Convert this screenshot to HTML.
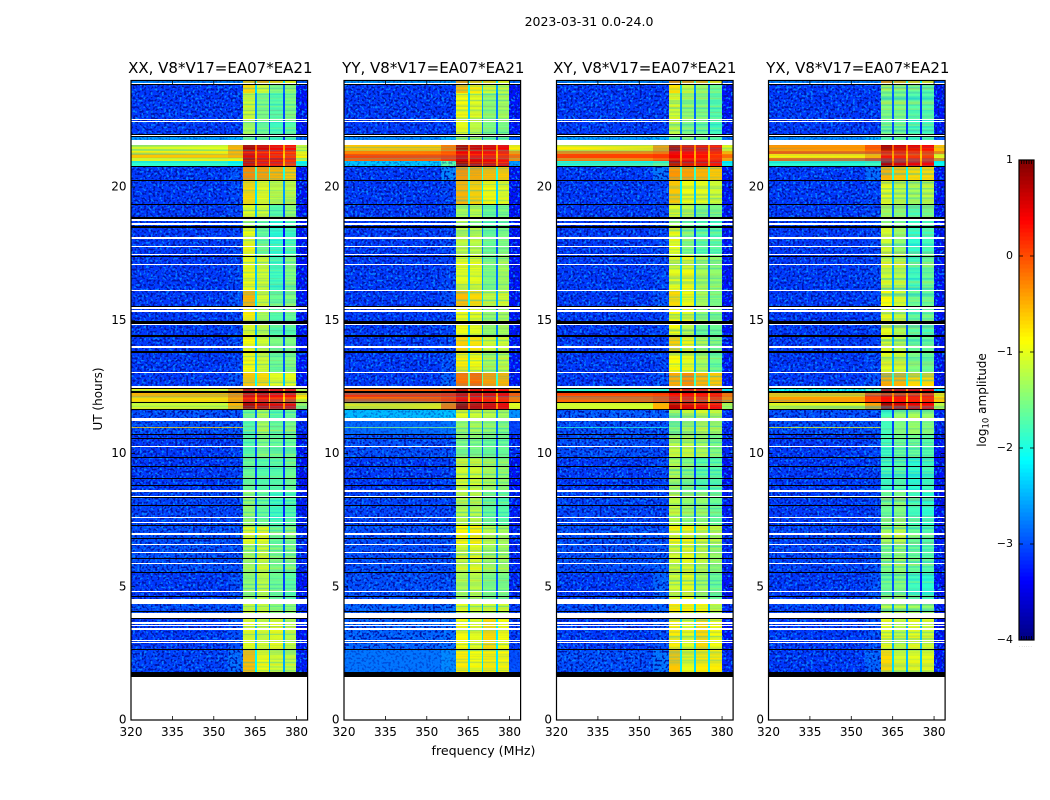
<!DOCTYPE html>
<html>
<head>
<meta charset="utf-8">
<title>2023-03-31 0.0-24.0</title>
<style>
html,body{margin:0;padding:0;background:#fff;}
svg{display:block;font-family:"DejaVu Sans","Liberation Sans",sans-serif;}
text{fill:#000;}
</style>
</head>
<body>
<svg id="chart" width="1050" height="800" viewBox="0 0 1050 800" xmlns="http://www.w3.org/2000/svg">
  <defs>
    <filter id="speckle" x="0" y="0" width="1" height="1" color-interpolation-filters="sRGB">
      <feTurbulence type="fractalNoise" baseFrequency="0.45" numOctaves="1" seed="3" result="n1"/>
      <feColorMatrix in="n1" type="matrix" values="0 0 0 0 0.02  0 0 0 0 0.52  0 0 0 0 1  8 0 0 0 -4.3" result="light"/>
      <feTurbulence type="fractalNoise" baseFrequency="0.45" numOctaves="1" seed="11" result="n2"/>
      <feColorMatrix in="n2" type="matrix" values="0 0 0 0 0  0 0 0 0 0.08  0 0 0 0 0.66  8 0 0 0 -4.1" result="dark"/>
      <feMerge result="m"><feMergeNode in="light"/><feMergeNode in="dark"/></feMerge>
      <feComposite in="m" in2="SourceAlpha" operator="in"/>
    </filter>
    <filter id="streak" x="0" y="0" width="1" height="1" color-interpolation-filters="sRGB">
      <feTurbulence type="fractalNoise" baseFrequency="0.004 0.5" numOctaves="1" seed="5" result="n1"/>
      <feColorMatrix in="n1" type="matrix" values="0 0 0 0 0  0 0 0 0 0.7  0 0 0 0 0.9  1.4 0 0 0 -0.6" result="cool"/>
      <feTurbulence type="fractalNoise" baseFrequency="0.004 0.5" numOctaves="1" seed="17" result="n2"/>
      <feColorMatrix in="n2" type="matrix" values="0 0 0 0 1  0 0 0 0 0.75  0 0 0 0 0  1.2 0 0 0 -0.6" result="warm"/>
      <feMerge result="m"><feMergeNode in="cool"/><feMergeNode in="warm"/></feMerge>
      <feComposite in="m" in2="SourceAlpha" operator="in"/>
    </filter>
  </defs>
  <rect x="0" y="0" width="1050" height="800" fill="#fff"/>
  <text x="589" y="26" text-anchor="middle" font-size="12.5">2023-03-31 0.0-24.0</text>
  <text x="483.5" y="755" text-anchor="middle" font-size="12.6">frequency (MHz)</text>
  <text transform="translate(102,399) rotate(-90)" text-anchor="middle" font-size="12">UT (hours)</text>
  <text transform="translate(986,400) rotate(-90)" text-anchor="middle" font-size="12">log<tspan font-size="8.5" dy="2.5">10</tspan><tspan dy="-2.5"> amplitude</tspan></text>
  <g id="panels"></g>
  <g id="colorbar"></g>
</svg>
<script>
// Axis tick labels
const xTicks = [320, 335, 350, 365, 380];
const yTicks = [0, 5, 10, 15, 20];
const cbTicks = [1, 0, -1, -2, -3, -4];

// Panels
const panelTitles = ['XX, V8*V17=EA07*EA21', 'YY, V8*V17=EA07*EA21', 'XY, V8*V17=EA07*EA21', 'YX, V8*V17=EA07*EA21'];

// Frequency column edges (MHz): background, near-band background, four channels with notches, out-of-band
const freqEdges = [320, 355, 360.6, 364.8, 365.6, 370, 370.5, 375, 375.7, 379.9, 384];

// UT band edges (hours), top to bottom
const bandEdges = [24, 23.87, 23.54, 22.53, 21.89, 21.59, 21.36, 21.25, 21.10, 20.99, 20.76, 20.24, 19.38, 18.82, 18.5, 17.45, 16.15, 15.55, 14.96, 14.42, 13.83, 13.07, 12.52, 12.31, 12.11, 11.92, 11.68, 11.3, 10.72, 9.85, 8.62, 7.31, 6.56, 5.55, 4.5, 3.83, 2.63, 1.6];

// Flagged-out time ranges (white) in hours
const flaggedWhite = [[23.87,23.91],[22.51,22.55],[22.45,22.49],[21.92,21.96],[21.59,21.78],[18.73,18.80],[18.59,18.65],[18.05,18.11],[17.74,17.80],[17.45,17.50],[17.08,17.13],[16.10,16.15],[15.42,15.49],[15.32,15.37],[14.84,14.88],[13.96,14.02],[13.01,13.07],[12.47,12.52],[11.24,11.35],[10.24,10.30],[8.57,8.65],[8.37,8.41],[7.57,7.63],[7.39,7.42],[6.96,7.00],[6.55,6.60],[6.27,6.31],[5.84,5.88],[4.81,4.86],[4.37,4.54],[3.83,4.02],[3.60,3.66],[3.52,3.56],[3.37,3.44],[2.96,3.02],[2.89,2.92]];

// Zero-amplitude time ranges (black) in hours
const flaggedBlack = [[23.84,23.87],[21.96,22.00],[21.89,21.92],[20.75,20.78],[20.21,20.25],[19.35,19.38],[18.82,18.86],[18.45,18.53],[17.39,17.43],[15.52,15.55],[14.88,14.96],[14.38,14.46],[13.79,13.83],[12.43,12.46],[12.29,12.33],[11.90,11.94],[11.64,11.69],[10.70,10.74],[10.54,10.58],[9.83,9.86],[9.51,9.55],[9.06,9.10],[8.78,8.82],[8.32,8.36],[8.04,8.08],[7.29,7.33],[6.80,6.84],[6.04,6.08],[5.52,5.55],[4.61,4.65],[4.05,4.09],[3.79,3.83],[2.63,2.67],[1.60,1.79]];

// Narrow-band interference rows: hour and level per panel
const rfiHours = [10.98, 10.98, 10.98, 10.98];
const rfiLevels = [-0.7, -1.5, -1.9, -1.0];

// log10 amplitude per UT band — XX
const xxBg = [-2.7,-3.1,-3.1,-3.1,-2.6,-1.0,-0.85,-0.6,-1.0,-1.9,-3.1,-3.1,-3.1,-3.1,-3.1,-3.1,-3.1,-3.1,-3.1,-3.1,-3.1,-3.1,-0.95,-0.5,-0.7,-1.15,-3.0,-3.0,-3.1,-3.1,-3.05,-3.0,-3.0,-3.1,-3.0,-3.1,-3.05];
const xxNear = [-2.7,-3.1,-3.1,-3.1,-2.5,-0.5,-0.5,-0.5,-0.9,-2.1,-3.0,-3.05,-3.05,-3.05,-3.05,-3.05,-3.0,-3.05,-3.05,-3.05,-3.05,-3.0,-0.4,-0.3,-0.4,-0.5,-3.0,-3.0,-3.05,-3.05,-3.05,-3.0,-3.0,-3.0,-3.0,-3.0,-2.85];
const xxCh1 = [-0.6,-0.7,-1.1,-1.3,-1.6,0.75,0.45,0.5,0.7,0.6,-0.3,-0.7,-1.0,-1.3,-0.95,-0.95,-0.5,-0.8,-1.0,-0.9,-0.9,-0.6,0.6,0.5,0.3,0.75,-1.6,-1.7,-1.7,-1.6,-1.4,-1.0,-1.3,-1.4,-1.1,-1.0,-0.55];
const xxCh2 = [-0.5,-1.1,-1.5,-1.6,-1.6,0.55,0.3,0.3,0.5,0.4,-0.4,-1.0,-1.1,-1.6,-1.6,-1.1,-1.1,-1.3,-1.2,-1.1,-1.1,-0.7,0.55,0.5,0.3,0.6,-1.3,-1.3,-1.5,-1.7,-1.6,-1.0,-1.1,-1.2,-1.1,-1.1,-0.95];
const xxCh3 = [-0.7,-1.5,-1.7,-1.8,-1.8,0.4,0.3,0.2,0.5,0.4,-0.5,-1.2,-1.7,-1.9,-1.9,-1.8,-1.6,-1.7,-1.7,-1.5,-1.6,-1.0,0.4,0.35,0.2,0.5,-1.7,-1.6,-1.6,-1.7,-1.8,-1.6,-1.5,-1.6,-1.4,-1.0,-1.1];
const xxCh4 = [-0.9,-1.4,-1.5,-1.7,-1.7,0.35,0.2,0.1,0.3,0.2,-0.6,-1.2,-1.4,-1.7,-1.8,-1.5,-1.5,-1.6,-1.7,-1.5,-1.5,-1.0,0.3,0.3,0.1,0.45,-1.6,-1.5,-1.6,-1.6,-1.7,-1.5,-1.5,-1.7,-1.4,-1.2,-1.2];

// log10 amplitude per UT band — YY
const yyBg = [-2.6,-3.1,-3.1,-3.1,-2.7,-0.6,-0.2,0.05,-0.1,-2.4,-3.1,-3.1,-3.1,-3.1,-3.1,-3.1,-3.1,-3.1,-3.1,-3.1,-3.1,-3.1,-0.1,0.15,0,-0.8,-2.45,-2.85,-3.0,-3.1,-3.05,-3.0,-3.0,-3.0,-2.9,-2.9,-2.8];
const yyNear = [-2.6,-3.1,-3.1,-3.1,-2.5,-0.2,-0.05,0.1,0.1,-1.7,-2.7,-3.05,-3.05,-3.05,-3.05,-3.05,-3.0,-3.05,-3.05,-3.05,-3.0,-2.9,0.05,0.2,0.1,-0.2,-2.4,-2.8,-3.0,-3.05,-3.05,-3.0,-3.0,-3.0,-2.85,-2.85,-2.7];
const yyCh1 = [-0.4,-0.55,-0.9,-1.0,-1.3,0.8,0.45,0.5,0.55,0.8,-0.35,-0.5,-1.3,-1.2,-1.2,-1.0,-0.55,-0.95,-0.95,-0.65,-0.8,-0.2,0.7,0.55,0.4,0.85,-1.0,-1.4,-1.5,-1.1,-1.2,-0.85,-1.1,-1.3,-1.0,-0.9,-0.8];
const yyCh2 = [-0.6,-0.8,-1.0,-1.2,-1.3,0.6,0.4,0.35,0.5,0.6,-0.45,-0.65,-1.2,-1.4,-1.2,-1.0,-0.7,-1.0,-1.0,-0.75,-0.9,-0.15,0.55,0.5,0.35,0.65,-1.1,-1.3,-1.5,-1.1,-1.2,-0.8,-1.0,-1.2,-1.1,-1.0,-0.9];
const yyCh3 = [-0.7,-1.1,-1.4,-1.5,-1.6,0.5,0.35,0.3,0.4,0.5,-0.55,-0.9,-1.6,-1.7,-1.6,-1.5,-1.2,-1.4,-1.4,-1.1,-1.3,-0.4,0.45,0.45,0.25,0.55,-1.2,-1.4,-1.6,-1.3,-1.6,-1.2,-1.3,-1.5,-1.1,-0.7,-0.8];
const yyCh4 = [-0.9,-1.2,-1.3,-1.5,-1.6,0.4,0.25,0.2,0.3,0.4,-0.6,-1.0,-1.5,-1.6,-1.5,-1.3,-1.1,-1.3,-1.3,-1.1,-1.2,-0.5,0.4,0.4,0.2,0.45,-1.3,-1.5,-1.6,-1.4,-1.7,-1.3,-1.3,-1.5,-1.1,-0.9,-0.85];

// log10 amplitude per UT band — XY
const xyBg = [-2.7,-3.1,-3.1,-3.1,-2.6,-0.8,-0.3,0.05,-0.2,-2.0,-3.1,-3.1,-3.1,-3.1,-3.1,-3.1,-3.1,-3.1,-3.1,-3.1,-3.1,-3.1,-2.0,0.05,-0.1,-1.1,-2.95,-3.0,-3.0,-3.1,-3.05,-3.0,-3.0,-3.1,-3.0,-3.1,-3.0];
const xyNear = [-2.7,-3.1,-3.1,-3.1,-2.5,-0.4,-0.2,0.1,0,-1.8,-2.8,-3.05,-3.05,-3.05,-3.05,-3.05,-3.0,-3.05,-3.05,-3.05,-3.05,-3.0,-2.0,0.1,0,-0.5,-2.95,-3.0,-3.05,-3.05,-3.05,-3.0,-2.95,-2.9,-2.9,-3.0,-2.8];
const xyCh1 = [-0.3,-0.75,-1.1,-1.2,-1.7,0.75,0.4,0.45,0.5,0.75,-0.35,-0.6,-1.0,-1.3,-1.0,-1.0,-0.7,-0.9,-0.9,-0.65,-0.9,-0.45,0.6,0.4,0.3,0.7,-1.4,-1.5,-1.2,-1.3,-1.2,-0.9,-1.1,-1.1,-0.8,-0.8,-0.6];
const xyCh2 = [-0.4,-1.2,-1.4,-1.5,-1.5,0.5,0.35,0.35,0.4,0.55,-0.4,-0.95,-1.2,-1.6,-1.5,-0.95,-0.95,-1.0,-1.2,-0.95,-1.0,-0.3,0.45,0.4,0.25,0.55,-1.2,-1.3,-1.2,-1.5,-1.4,-0.9,-1.0,-1.0,-0.85,-1.0,-1.0];
const xyCh3 = [-0.5,-1.4,-1.5,-1.6,-1.6,0.45,0.3,0.3,0.35,0.45,-0.5,-1.0,-1.5,-1.7,-1.7,-1.3,-1.3,-1.4,-1.6,-1.3,-1.3,-0.5,0.35,0.35,0.15,0.45,-1.1,-1.2,-1.3,-1.7,-1.4,-1.1,-1.2,-1.3,-0.9,-0.7,-0.8];
const xyCh4 = [-0.8,-1.6,-1.7,-1.8,-1.7,0.35,0.2,0.15,0.25,0.35,-0.6,-1.1,-1.5,-1.8,-1.7,-1.4,-1.5,-1.5,-1.6,-1.5,-1.6,-0.6,0.3,0.3,0.1,0.35,-1.2,-1.3,-1.5,-1.7,-1.6,-1.2,-1.4,-1.6,-1.2,-0.9,-0.8];

// log10 amplitude per UT band — YX
const yxBg = [-2.7,-3.1,-3.1,-3.1,-2.7,-0.35,-0.05,-0.8,-0.1,-1.9,-3.1,-3.1,-3.1,-3.1,-3.1,-3.1,-3.1,-3.1,-3.1,-3.1,-3.1,-3.1,-2.1,-0.6,-0.4,-1.0,-3.0,-3.0,-3.1,-3.1,-3.1,-3.05,-3.05,-3.1,-3.05,-3.1,-3.1];
const yxNear = [-2.7,-3.1,-3.1,-3.1,-2.5,-0.05,0.05,-0.5,0.1,-1.8,-2.85,-3.05,-3.05,-3.05,-3.05,-3.05,-3.05,-3.05,-3.05,-3.05,-3.05,-3.0,-1.8,0.15,0.05,-0.4,-3.0,-3.0,-3.05,-3.05,-3.05,-3.05,-3.0,-3.0,-3.0,-3.0,-2.9];
const yxCh1 = [-0.3,-1.4,-1.5,-1.6,-1.7,0.8,0.45,0.4,0.5,0.75,-0.5,-1.0,-1.4,-1.5,-1.1,-1.1,-0.9,-1.0,-1.0,-1.0,-1.0,-0.45,0.65,0.5,0.35,0.8,-1.8,-1.8,-1.8,-1.8,-1.6,-1.3,-1.5,-1.6,-1.2,-1.0,-0.7];
const yxCh2 = [-0.5,-1.5,-1.5,-1.6,-1.6,0.6,0.4,0.3,0.4,0.55,-0.6,-1.2,-1.5,-1.6,-1.4,-1.2,-1.1,-1.2,-1.3,-1.2,-1.1,-0.5,0.55,0.5,0.3,0.6,-1.4,-1.5,-1.6,-1.7,-1.5,-1.2,-1.4,-1.5,-1.2,-1.2,-1.1];
const yxCh3 = [-0.7,-1.6,-1.7,-1.8,-1.8,0.5,0.3,0.2,0.3,0.45,-0.7,-1.3,-1.8,-1.9,-1.9,-1.8,-1.6,-1.7,-1.7,-1.6,-1.5,-0.7,0.5,0.4,0.25,0.5,-1.3,-1.4,-1.6,-1.9,-1.8,-1.6,-1.6,-1.8,-1.3,-1.0,-1.0];
const yxCh4 = [-0.8,-1.7,-1.7,-1.8,-1.7,0.4,0.2,0.15,0.25,0.4,-0.7,-1.2,-1.6,-1.8,-1.8,-1.6,-1.6,-1.6,-1.8,-1.6,-1.6,-0.7,0.4,0.35,0.2,0.4,-1.4,-1.5,-1.7,-1.8,-1.9,-1.7,-1.7,-1.9,-1.4,-1.1,-1.0];

const panelSeries = [
  [xxBg, xxNear, xxCh1, xxCh2, xxCh3, xxCh4],
  [yyBg, yyNear, yyCh1, yyCh2, yyCh3, yyCh4],
  [xyBg, xyNear, xyCh1, xyCh2, xyCh3, xyCh4],
  [yxBg, yxNear, yxCh1, yxCh2, yxCh3, yxCh4]
];

const NS = 'http://www.w3.org/2000/svg';
const panelLeft = [131, 344, 556.5, 768.5];
const titleShift = [1, 1, 0, 1];
const panelWidth = 176.6;
const plotTop = 80.5, plotBottom = 720;

function xScale(p, f) { return panelLeft[p] + (f - 320) / 64 * panelWidth; }
function yScale(h) { return plotBottom - h / 24 * (plotBottom - plotTop); }

function jet(v) {
  const t = Math.max(0, Math.min(1, (v + 4) / 5));
  const c = x => Math.round(255 * Math.max(0, Math.min(1, 1.5 - Math.abs(4 * t - x))));
  return 'rgb(' + c(3) + ',' + c(2) + ',' + c(1) + ')';
}
function notch(a, b) {
  const m = (a + b) / 2;
  return m > 0 ? m - 0.8 : m - 1.4;
}
function mk(tag, attrs, parent) {
  const el = document.createElementNS(NS, tag);
  for (const k in attrs) el.setAttribute(k, attrs[k]);
  parent.appendChild(el);
  return el;
}

const channelColumns = [2, 4, 6, 8];

const panelsRoot = document.getElementById('panels');
panelTitles.forEach((title, p) => {
  const g = mk('g', {}, panelsRoot);
  
  
  const [bg, near, c1, c2, c3, c4] = panelSeries[p];

  const cells = mk('g', {'shape-rendering': 'crispEdges'}, g);
  
  
  const speck = mk('g', {filter: 'url(#speckle)', 'shape-rendering': 'crispEdges'}, g);
  
  
  const streak = mk('g', {filter: 'url(#streak)', 'shape-rendering': 'crispEdges'}, g);
  
  

  for (let b = 0; b < bandEdges.length - 1; b++) {
    const levels = [
      bg[b], near[b], c1[b], notch(c1[b], c2[b]),
      c2[b], notch(c2[b], c3[b]), c3[b], notch(c3[b], c4[b]),
      c4[b], bg[b] - 0.2
    ];
    const y0 = Math.round(yScale(bandEdges[b]));
    const y1 = Math.round(yScale(bandEdges[b + 1]));
    levels.forEach((v, i) => {
      const x0 = Math.round(xScale(p, freqEdges[i]));
      const x1 = Math.round(xScale(p, freqEdges[i + 1]));
      const cell = mk('rect', {x: x0, y: y0, width: x1 - x0, height: y1 - y0, fill: jet(v)}, cells);
      
      
    });
    const xa = Math.round(xScale(p, freqEdges[0]));
    const xb = Math.round(xScale(p, freqEdges[2]));
    const xc = Math.round(xScale(p, freqEdges[9]));
    const xd = Math.round(xScale(p, freqEdges[10]));
    if (bg[b] < -2) {
      const strength = bg[b] < -2.85 ? 1 : 0.4;
      mk('rect', {x: xa, y: y0, width: xb - xa, height: y1 - y0, 'fill-opacity': strength}, speck);
      mk('rect', {x: xc, y: y0, width: xd - xc, height: y1 - y0, 'fill-opacity': strength}, speck);
    } else {
      mk('rect', {x: xa, y: y0, width: xb - xa, height: y1 - y0}, streak);
      mk('rect', {x: xc, y: y0, width: xd - xc, height: y1 - y0}, streak);
    }
    channelColumns.forEach(i => {
      const x0 = Math.round(xScale(p, freqEdges[i]));
      const x1 = Math.round(xScale(p, freqEdges[i + 1]));
      mk('rect', {x: x0, y: y0, width: x1 - x0, height: y1 - y0}, streak);
    });
  }

  const L = panelLeft[p], R = L + panelWidth;

  const rfi = mk('rect', {x: L, y: Math.round(yScale(rfiHours[p])), width: xScale(p, 360.6) - L, height: 1, fill: jet(rfiLevels[p]), opacity: 0.75, 'shape-rendering': 'crispEdges'}, g);
  
  

  flaggedWhite.forEach(r => {
    const y0 = yScale(r[1]), y1 = yScale(r[0]);
    const w = mk('rect', {x: L, y: Math.round(y0), width: panelWidth, height: Math.max(1, Math.round(y1) - Math.round(y0)), fill: '#fff', 'shape-rendering': 'crispEdges'}, g);
    
    
  });
  flaggedBlack.forEach(r => {
    const y0 = yScale(r[1]), y1 = yScale(r[0]);
    const k = mk('rect', {x: L, y: Math.round(y0), width: panelWidth, height: Math.max(1, Math.round(y1) - Math.round(y0)), fill: '#000', 'shape-rendering': 'crispEdges'}, g);
    
    
  });

  const below = mk('rect', {x: L, y: Math.round(yScale(1.57)), width: panelWidth, height: plotBottom - Math.round(yScale(1.57)), fill: '#fff'}, g);
  
  

  const frame = mk('rect', {x: L, y: plotTop, width: panelWidth, height: plotBottom - plotTop, fill: 'none', stroke: '#000', 'stroke-width': 1.2}, g);
  
  

  xTicks.forEach(t => {
    const x = xScale(p, t);
    const a = mk('line', {x1: x, x2: x, y1: plotBottom, y2: plotBottom - 4, stroke: '#000', 'stroke-width': 0.8}, g);
    
    
    const b = mk('line', {x1: x, x2: x, y1: plotTop, y2: plotTop + 4, stroke: '#000', 'stroke-width': 0.8}, g);
    
    
    const lab = mk('text', {x: x, y: 736, 'text-anchor': 'middle', 'font-size': 12}, g);
    
    
    lab.textContent = t;
  });
  yTicks.forEach(t => {
    const y = yScale(t);
    const a = mk('line', {x1: L, x2: L + 4, y1: y, y2: y, stroke: '#000', 'stroke-width': 0.8}, g);
    
    
    const b = mk('line', {x1: R, x2: R - 4, y1: y, y2: y, stroke: '#000', 'stroke-width': 0.8}, g);
    
    
    const lab = mk('text', {x: L - 4.5, y: y + 3.5, 'text-anchor': 'end', 'font-size': 12}, g);
    
    
    lab.textContent = t;
  });
  const tt = mk('text', {x: L + panelWidth / 2 + titleShift[p], y: 73, 'text-anchor': 'middle', 'font-size': 15}, g);
  
  
  tt.textContent = title;
});

// Colour bar
const cbRoot = document.getElementById('colorbar');
const cbX = 1019, cbW = 15, cbTop = 160, cbBottom = 640;
function cbScale(v) { return cbBottom - (v + 4) / 5 * (cbBottom - cbTop); }
const cbSteps = 120;
for (let i = 0; i < cbSteps; i++) {
  const v0 = -4 + 5 * i / cbSteps, v1 = -4 + 5 * (i + 1) / cbSteps;
  const s = mk('rect', {x: cbX, y: cbScale(v1), width: cbW, height: cbScale(v0) - cbScale(v1) + 0.5, fill: jet((v0 + v1) / 2), 'shape-rendering': 'crispEdges'}, cbRoot);
  
  
}
const cbFrame = mk('rect', {x: cbX, y: cbTop, width: cbW, height: cbBottom - cbTop, fill: 'none', stroke: '#000', 'stroke-width': 1.2}, cbRoot);


cbTicks.forEach(t => {
  const y = cbScale(t);
  const a = mk('line', {x1: cbX, x2: cbX + 4, y1: y, y2: y, stroke: '#000', 'stroke-width': 0.8}, cbRoot);
  
  
  const b = mk('line', {x1: cbX + cbW, x2: cbX + cbW - 4, y1: y, y2: y, stroke: '#000', 'stroke-width': 0.8}, cbRoot);
  
  
  const lab = mk('text', {x: 1013, y: y + 3, 'text-anchor': 'end', 'font-size': 11}, cbRoot);
  
  
  lab.textContent = String(t).replace('-', '\u2212');
});
for (let i = 1; i < 6; i++) {
  const x = cbX + cbW * i / 6;
  const a = mk('line', {x1: x, x2: x, y1: cbTop, y2: cbTop + 4, stroke: '#000', 'stroke-width': 0.8}, cbRoot);
  
  
  const b = mk('line', {x1: x, x2: x, y1: cbBottom, y2: cbBottom - 4, stroke: '#000', 'stroke-width': 0.8}, cbRoot);
  
  
}
const cbDots = mk('text', {x: 1026, y: 647, 'text-anchor': 'middle', 'font-size': 4}, cbRoot);


cbDots.setAttribute('style', 'fill:#777;letter-spacing:1px');
cbDots.textContent = '......';
</script>
</body>
</html>
